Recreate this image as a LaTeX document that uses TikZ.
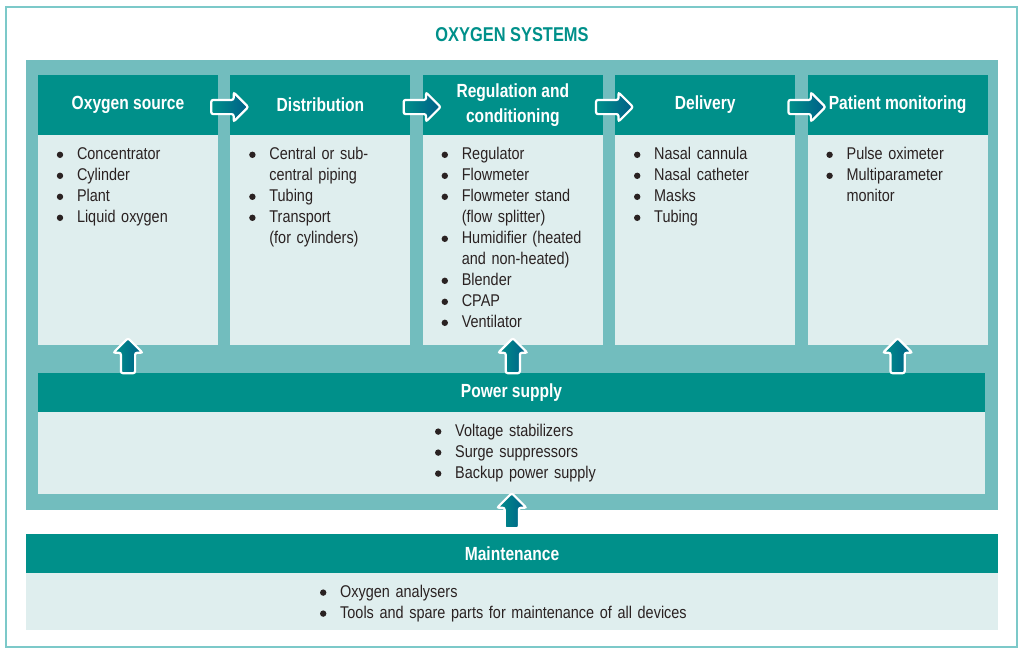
\documentclass[tikz,border=0pt]{standalone}
\usepackage{fontspec}
\setmainfont{Liberation Sans}[FakeStretch=0.85, BoldFeatures={FakeStretch=0.82}]
\usepackage{enumitem}
\usetikzlibrary{positioning,calc,shapes.arrows}
\definecolor{oxteal}{HTML}{00908A}
\definecolor{oxframe}{HTML}{72BDBE}
\definecolor{oxbody}{HTML}{DFEEEE}
\definecolor{oxline}{HTML}{7CC9C9}
\definecolor{oxblue}{HTML}{005E88}
\definecolor{oxtext}{HTML}{2A2222}
\newcommand{\oxdot}{\tikz[baseline=-4.6pt]\fill[oxtext] (0,0) circle (3.2pt);}
\setlist[itemize]{label=\oxdot, leftmargin=20pt,
    labelwidth=6.4pt, labelsep=13.8pt, itemsep=0pt, topsep=0pt, parsep=0pt, partopsep=0pt}
\tikzset{
    title/.style = {
        text = oxteal,
        font = \fontsize{20}{24}\selectfont\bfseries,
        },
    head/.style = {
        fill = oxteal,
        text = white,
        font = \fontsize{19}{25}\selectfont\bfseries,
        minimum width = 180pt,
        minimum height = 60pt,
        inner sep = 0pt,
        align = center,
        },
    body/.style = {
        fill = oxbody,
        minimum width = 180pt,
        minimum height = 210pt,
        inner sep = 0pt,
        },
    items/.style = {
        text = oxtext,
        font = \fontsize{17}{21}\selectfont,
        text width = 160pt,
        inner sep = 0pt,
        anchor = north west,
        },
    flow arrow/.style = {
        single arrow,
        draw = white,
        line width = 2.2pt,
        left color = oxteal,
        right color = oxblue,
        minimum height = 37pt,
        minimum width = 27pt,
        single arrow head extend = 7.5pt,
        inner sep = 6pt,
        rounded corners = 2pt,
        },
    up arrow/.style = {
        flow arrow,
        shape border rotate = 90,
        minimum height = 35pt,
        },
}
\newcommand{\oxlist}[1]{\begin{itemize}#1\end{itemize}}

\begin{document}
\begin{tikzpicture}[x=1pt, y=-1pt]
    \useasboundingbox (0,0) rectangle (1024,654);
    \draw[oxline, line width=1.3pt] (6,7) rectangle (1017,647);
    \fill[oxframe] (26,60) rectangle (998,510);
    \node[title] (title) at (512,35) {OXYGEN SYSTEMS};

    % chain of stages
    \node[head] (src) at (128,105) {Oxygen source};
    \node[head, right=12pt of src] (dist) {Distribution};
    \node[head, right=12pt of dist] (reg) {Regulation and\\conditioning};
    \node[head, right=12pt of reg] (deliv) {Delivery};
    \node[head, right=12pt of deliv] (monit) {Patient monitoring};

    \node[body, below=0pt of src] (srcbody) {};
    \node[body, below=0pt of dist] (distbody) {};
    \node[body, below=0pt of reg] (regbody) {};
    \node[body, below=0pt of deliv] (delivbody) {};
    \node[body, below=0pt of monit] (monitbody) {};

    \node[items] (srclist) at ($(srcbody.north west)+(19,3)$) {\oxlist{
        \item Concentrator
        \item Cylinder
        \item Plant
        \item Liquid oxygen}};
    \node[items] (distlist) at ($(distbody.north west)+(19,3)$) {\oxlist{
        \item Central or sub-\newline central piping
        \item Tubing
        \item Transport\newline (for cylinders)}};
    \node[items] (reglist) at ($(regbody.north west)+(19,3)$) {\oxlist{
        \item Regulator
        \item Flowmeter
        \item Flowmeter stand\newline (flow splitter)
        \item Humidifier (heated\newline and non-heated)
        \item Blender
        \item CPAP
        \item Ventilator}};
    \node[items] (delivlist) at ($(delivbody.north west)+(19,3)$) {\oxlist{
        \item Nasal cannula
        \item Nasal catheter
        \item Masks
        \item Tubing}};
    \node[items] (monitlist) at ($(monitbody.north west)+(19,3)$) {\oxlist{
        \item Pulse oximeter
        \item Multiparameter\newline monitor}};

    % power supply and maintenance
    \node[head, minimum width=947pt, minimum height=39pt] (power) at (511.5,392.5) {Power supply};
    \node[body, minimum width=947pt, minimum height=82pt, below=0pt of power] (powerbody) {};
    \node[items, text width=200pt] (powerlist) at (435,415) {\oxlist{
        \item Voltage stabilizers
        \item Surge suppressors
        \item Backup power supply}};

    \node[head, minimum width=972pt, minimum height=39pt] (maint) at (512,553.5) {Maintenance};
    \node[body, minimum width=972pt, minimum height=57pt, below=0pt of maint] (maintbody) {};
    \node[items, text width=400pt] (maintlist) at (320,576) {\oxlist{
        \item Oxygen analysers
        \item Tools and spare parts for maintenance of all devices}};

    % arrows
    \node[flow arrow, xshift=2pt, yshift=-2pt] (a1) at ($(src.east)!0.5!(dist.west)$) {};
    \node[flow arrow, xshift=2pt, yshift=-2pt] (a2) at ($(dist.east)!0.5!(reg.west)$) {};
    \node[flow arrow, xshift=2pt, yshift=-2pt] (a3) at ($(reg.east)!0.5!(deliv.west)$) {};
    \node[flow arrow, xshift=2pt, yshift=-2pt] (a4) at ($(deliv.east)!0.5!(monit.west)$) {};
    \node[up arrow] (u1) at ($(srcbody.south)!0.5!(srcbody.south |- power.north)$) {};
    \node[up arrow] (u2) at ($(regbody.south)!0.5!(regbody.south |- power.north)$) {};
    \node[up arrow] (u3) at ($(monitbody.south)!0.5!(monitbody.south |- power.north)$) {};
    \node[up arrow] (u4) at ($(powerbody.south)!0.5!(maint.north)$) {};
\end{tikzpicture}
\end{document}
